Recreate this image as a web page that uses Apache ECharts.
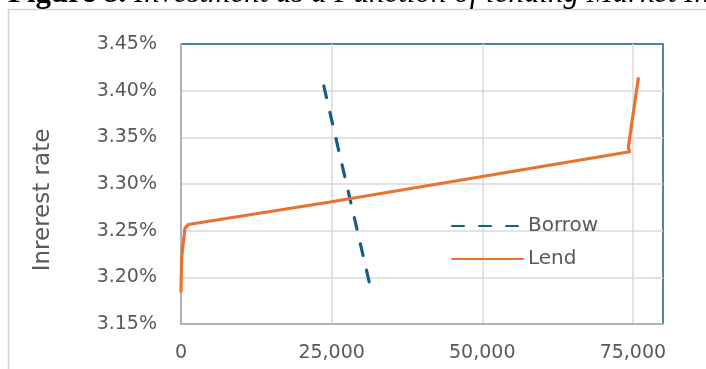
<!DOCTYPE html>
<html>
<head>
<meta charset="utf-8">
<script src="https://cdn.jsdelivr.net/npm/echarts@6/dist/echarts.min.js"></script>
<style>
html,body{margin:0;padding:0;background:#fff;}
#chart{width:706px;height:369px;}
</style>
</head>
<body>
<div id="chart"></div>
<script>
// ---- data ----
var seriesNames = ['Borrow', 'Lend'];
var borrowX = [23700, 31600];
var borrowY = [3.405, 3.185];
var lendX = [0, 100, 650, 1200, 25000, 50000, 74450, 74250, 75900];
var lendY = [3.185, 3.221, 3.2525, 3.2566, 3.281, 3.308, 3.3346, 3.3393, 3.413];
var xTicks = [0, 25000, 50000, 75000];
var yTicks = [3.15, 3.20, 3.25, 3.30, 3.35, 3.40, 3.45];
var yAxisTitle = 'Inrerest rate';
var figureTitle = 'Figure 8. ';
var figureSubtitle = 'Investment as a Function of lending Market Interest Rate';

function pairs(xs, ys) { return xs.map(function (x, i) { return [x, ys[i]]; }); }

var txt = '#595959';
var font = 'DejaVu Sans';
var xMax = 80000;
var chart = echarts.init(document.getElementById('chart'), null, {renderer: 'canvas'});
chart.setOption({
  animation: false,
  backgroundColor: '#ffffff',
  textStyle: {fontFamily: font, color: txt},
  grid: {
    left: 181, top: 44, right: 43, bottom: 45,
    show: true, borderColor: '#156082', borderWidth: 1.5, backgroundColor: 'transparent'
  },
  legend: {
    orient: 'vertical',
    left: 446, top: 211,
    itemWidth: 71, itemHeight: 14, itemGap: 13,
    itemStyle: {color: 'rgba(0,0,0,0)', borderWidth: 0, opacity: 0},
    textStyle: {fontFamily: font, fontSize: 20, color: txt},
    data: seriesNames
  },
  xAxis: {
    type: 'value',
    min: xTicks[0], max: xMax, interval: xTicks[1] - xTicks[0],
    axisLine: {show: true, onZero: false, lineStyle: {color: '#aab4bc', width: 2}},
    axisTick: {show: false},
    splitLine: {show: true, showMinLine: false, showMaxLine: false, lineStyle: {color: '#d9d9d9', width: 1.5}},
    axisLabel: {
      showMaxLabel: false,
      margin: 20, fontSize: 19, color: txt, fontFamily: font,
      formatter: function (v) { return xTicks.indexOf(v) >= 0 ? v.toLocaleString('en-US') : ''; }
    }
  },
  yAxis: {
    type: 'value',
    min: yTicks[0], max: yTicks[yTicks.length - 1], interval: 0.05,
    axisLine: {show: true, onZero: false, lineStyle: {color: '#aab4bc', width: 2}},
    axisTick: {show: false},
    splitLine: {show: true, showMinLine: false, showMaxLine: false, lineStyle: {color: '#d9d9d9', width: 1.5}},
    axisLabel: {
      margin: 24, fontSize: 19, color: txt, fontFamily: font,
      formatter: function (v) { return v.toFixed(2) + '%'; }
    }
  },
  graphic: [
    {
      type: 'rect', silent: true, z: -10,
      shape: {x: 8.5, y: 9.5, width: 800, height: 400},
      style: {fill: 'none', stroke: '#d4d4d4', lineWidth: 1.5}
    },
    {
      type: 'text', x: 8, y: -6,
      style: {
        text: '{b|' + figureTitle + '}{i|' + figureSubtitle + '}',
        rich: {
          b: {fontFamily: 'Liberation Serif', fontWeight: 'bold', fontSize: 31, fill: '#000'},
          i: {fontFamily: 'Liberation Serif', fontStyle: 'italic', fontSize: 31, fill: '#000'}
        },
        verticalAlign: 'middle', align: 'left'
      }
    },
    {
      type: 'text', x: 43, y: 200, rotation: Math.PI / 2,
      style: {
        text: yAxisTitle, fontFamily: font, fontSize: 23, fill: txt,
        align: 'center', verticalAlign: 'middle'
      }
    }
  ],
  series: [
    {
      name: seriesNames[0], type: 'line', showSymbol: false, symbol: 'none',
      data: pairs(borrowX, borrowY),
      itemStyle: {color: '#156082'},
      lineStyle: {color: '#156082', width: 3.2, type: [12, 15], cap: 'round'}
    },
    {
      name: seriesNames[1], type: 'line', showSymbol: false, symbol: 'none',
      data: pairs(lendX, lendY),
      itemStyle: {color: '#E97132'},
      lineStyle: {color: '#E97132', width: 3.2, cap: 'round', join: 'round'}
    }
  ]
});
</script>
</body>
</html>
